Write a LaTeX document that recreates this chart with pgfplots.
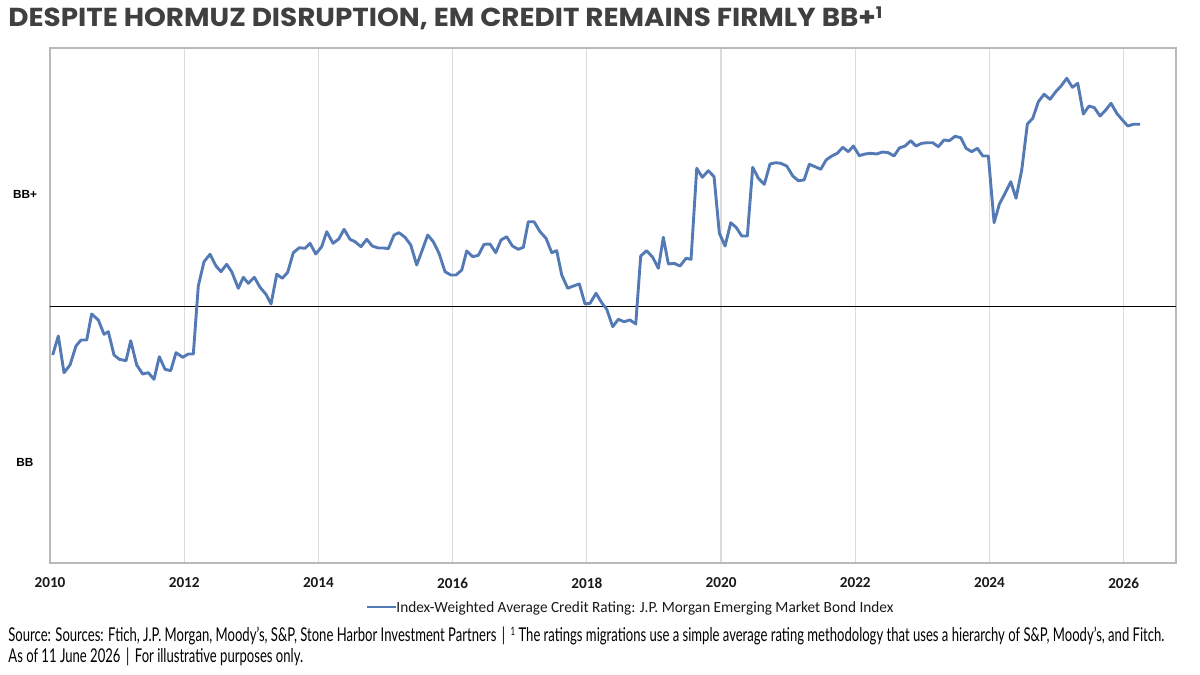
\documentclass[border=0pt]{standalone}
\usepackage{pgfplots}
\pgfplotsset{compat=1.18}
\usepackage{pgfplotstable}
\usepackage{fontspec}
\setmainfont{Carlito}
\newfontfamily\titlefont{Poppins}
\newfontfamily\footfont{Lato}
\newfontfamily\arialfont{Liberation Sans}
\definecolor{lineblue}{RGB}{84,122,182}
\definecolor{titlegray}{RGB}{64,64,64}

% y = chart position of the index-weighted average rating (BB+ at 194, BB at 462; axis reversed)
\pgfplotstableread{
x y
2010.040 355
2010.124 336
2010.209 372.7
2010.298 365
2010.387 346
2010.462 340
2010.547 340
2010.621 314
2010.720 320
2010.805 334.3
2010.869 331.7
2010.954 355
2011.033 359.3
2011.133 360.7
2011.203 340.7
2011.292 365
2011.382 374
2011.465 372.7
2011.550 379.3
2011.629 356.7
2011.714 369.3
2011.799 370.7
2011.878 352.7
2011.978 357.3
2012.061 354
2012.136 354
2012.210 286
2012.295 261.7
2012.385 254.3
2012.474 266
2012.548 271.7
2012.633 264.3
2012.708 271.7
2012.806 288.3
2012.881 277.3
2012.955 283.3
2013.045 277.3
2013.130 287.3
2013.219 294.3
2013.294 304
2013.379 274.3
2013.462 278.3
2013.542 272.3
2013.626 252.7
2013.715 247.7
2013.800 248.3
2013.875 243.3
2013.960 254
2014.049 246.7
2014.124 231.7
2014.218 243.3
2014.304 239
2014.382 229.3
2014.471 239.3
2014.545 241.7
2014.635 246.7
2014.720 239.3
2014.803 246
2014.893 248
2014.978 248
2015.042 248.7
2015.127 235
2015.201 232.7
2015.291 237.3
2015.376 245
2015.465 265
2015.548 250
2015.629 235
2015.712 241.7
2015.797 253.3
2015.887 271.7
2015.972 275
2016.051 275
2016.136 270
2016.210 251
2016.300 256.7
2016.383 255.3
2016.468 244.3
2016.557 244
2016.642 252.7
2016.721 240
2016.806 236.7
2016.890 246
2016.979 249.3
2017.054 247.3
2017.128 221.7
2017.213 221.7
2017.303 231.7
2017.392 238.3
2017.477 252.7
2017.551 250.7
2017.626 275
2017.715 288.3
2017.799 286
2017.888 284
2017.973 304
2018.048 303.3
2018.137 293.3
2018.222 302.7
2018.297 309.3
2018.386 326.7
2018.469 319.3
2018.554 321.7
2018.644 320
2018.729 324
2018.803 256
2018.890 250.7
2018.982 257.3
2019.066 268.3
2019.140 237.3
2019.215 264
2019.300 263.3
2019.389 266
2019.478 258.3
2019.553 259.3
2019.638 168.3
2019.721 177.3
2019.811 170.7
2019.896 176.7
2019.975 233.3
2020.060 246
2020.145 222.7
2020.224 227.3
2020.309 236
2020.392 236
2020.472 167.3
2020.556 178.3
2020.645 184.3
2020.730 164
2020.815 162.7
2020.890 163.3
2020.979 166
2021.069 176
2021.152 180.7
2021.237 180
2021.316 164.3
2021.401 166.7
2021.486 169.3
2021.565 160
2021.650 156
2021.733 153.3
2021.814 147.3
2021.897 151.7
2021.972 146
2022.061 155.7
2022.146 154
2022.231 153.3
2022.320 154
2022.404 152
2022.493 152.7
2022.578 156
2022.657 148
2022.742 146
2022.827 140.7
2022.906 146
2022.991 143.3
2023.075 142.7
2023.155 142.7
2023.238 146.7
2023.323 140
2023.402 140.7
2023.487 136.3
2023.572 137.7
2023.651 148.3
2023.736 151.7
2023.820 148.3
2023.900 156
2023.984 156
2024.069 222.7
2024.148 204
2024.233 193.3
2024.318 181.7
2024.396 198.3
2024.481 170
2024.565 124
2024.645 118.3
2024.729 101.7
2024.814 94.3
2024.903 99.3
2024.988 91.7
2025.067 86
2025.152 78.3
2025.236 87.3
2025.316 83.3
2025.399 114
2025.484 106
2025.563 107.7
2025.648 116
2025.733 110
2025.812 103.3
2025.897 113.3
2025.981 120
2026.061 126
2026.145 124.3
2026.244 124.3
}\ratingdata

\newsavebox\footA
\newsavebox\footB

\begin{document}
\sbox\footA{\footfont\fontsize{9.5}{11}\selectfont Source: Sources: Ftich, J.P. Morgan, Moody’s, S\&P, Stone Harbor Investment Partners \,|\, \raisebox{0.35em}{\fontsize{5.8}{6}\selectfont 1} The ratings migrations use a simple average rating methodology that uses a hierarchy of S\&P, Moody’s, and Fitch.}%
\sbox\footB{\footfont\fontsize{9.5}{11}\selectfont As of 11 June 2026 \,|\, For illustrative purposes only.}%
\pgfmathsetmacro\ff{578/\wd\footA}%
\begin{tikzpicture}[x=1pt,y=1pt]
\useasboundingbox (0,0) rectangle (600,337.5);
\begin{axis}[
  at={(25pt,56pt)}, anchor=south west,
  scale only axis, width=563pt, height=257.5pt,
  xmin=2010, xmax=2026.78, ymin=48, ymax=563, y dir=reverse,
  xtick={2010,2012,2014,2016,2018,2020,2022,2024,2026},
  xticklabels={2010,2012,2014,2016,2018,2020,2022,2024,2026},
  ytick={194,462}, yticklabels={BB+,BB},
  major tick length=0pt,
  xmajorgrids,
  major grid style={draw=gray!28, line width=0.6pt},
  axis line style={draw=gray!55, line width=0.7pt},
  xticklabel style={font=\bfseries\fontsize{7.6}{8}\selectfont, text=black!90, anchor=center, yshift=-10pt},
  yticklabel style={font=\arialfont\bfseries\fontsize{5.9}{7}\selectfont, anchor=center, xshift=-12.5pt},
]
\draw[black, line width=0.45pt] (axis cs:2010,306) -- (axis cs:2026.78,306);
\addplot[lineblue, line width=1.45pt, line join=round, mark=none] table[x=x,y=y]{\ratingdata};
\end{axis}

\node[anchor=base west, inner sep=0, text=titlegray] at (4,324.3)
  {\resizebox{437pt}{\height}{\titlefont\bfseries\fontsize{13}{15}\selectfont DESPITE HORMUZ DISRUPTION, EM CREDIT REMAINS FIRMLY BB+\raisebox{0.3em}{\fontsize{8}{9}\selectfont 1}}};

\draw[lineblue, line width=1.3pt] (183.5,34) -- (198,34);
\node[anchor=base west, inner sep=0, text=black!90] at (198,31.3)
  {\resizebox{248.5pt}{\height}{\fontsize{7.8}{9}\selectfont Index-Weighted Average Credit Rating: J.P. Morgan Emerging Market Bond Index}};

\node[anchor=base west, inner sep=0, text=black!85] at (4,16.5) {\scalebox{\ff}[1]{\usebox\footA}};
\node[anchor=base west, inner sep=0, text=black!85] at (4,6) {\scalebox{\ff}[1]{\usebox\footB}};
\end{tikzpicture}
\end{document}
